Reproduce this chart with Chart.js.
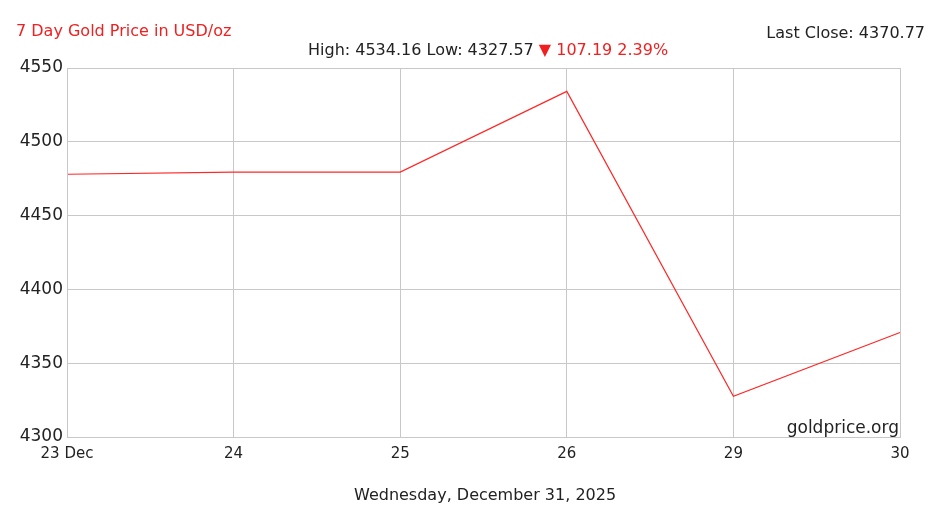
<!DOCTYPE html>
<html>
<head>
<meta charset="utf-8">
<script src="https://cdn.jsdelivr.net/npm/chart.js@4"></script>
<style>
body{margin:0;background:#fff;font-family:"DejaVu Sans",Verdana,sans-serif;}
#wrap{position:relative;width:939px;height:512px;}
.t{position:absolute;font-size:16px;color:#222;white-space:nowrap;}
</style>
</head>
<body>
<div id="wrap">
<canvas id="myChart" width="939" height="512"></canvas>
<div class="t" style="left:16px;top:21px;color:#f02020;">7 Day Gold Price in USD/oz</div>
<div class="t" style="right:14px;top:23px;">Last Close: 4370.77</div>
<div class="t" style="left:308px;top:40px;">High: 4534.16 Low: 4327.57 <span style="color:#f02020">&#9660; 107.19 2.39%</span></div>
<div class="t" style="right:40px;top:417px;font-size:17px;">goldprice.org</div>
<div class="t" style="left:354px;top:485px;">Wednesday, December 31, 2025</div>
</div>
<script>
const labels = ['23 Dec', '24', '25', '26', '29', '30'];
const prices = [4478, 4479.5, 4479.5, 4534.16, 4327.57, 4370.77];
const yTicks = [4300, 4350, 4400, 4450, 4500, 4550];

let myChart = new Chart(document.getElementById('myChart'), {
	type: 'line',
	data: {
		labels: labels,
		datasets: [{
			data: prices,
			borderColor: '#ff2828',
			borderWidth: 1.2,
			pointRadius: 0,
			tension: 0
		}]
	},
	options: {
		responsive: false,
		animation: false,
		layout: {padding: {top: 68, right: 39, left: 0, bottom: 0}},
		plugins: {legend: {display: false}, tooltip: {enabled: false}},
		scales: {
			x: {
				offset: false,
				grid: {color: '#c8c8c8', drawTicks: false},
				border: {color: '#c8c8c8'},
				ticks: {color: '#222', font: {family: 'DejaVu Sans', size: 15}, padding: 8, maxRotation: 0},
				afterFit: s => { s.height = 75; }
			},
			y: {
				min: 4300, max: 4550,
				afterBuildTicks: s => { s.ticks = yTicks.map(v => ({value: v})); },
				grid: {color: '#c8c8c8', drawTicks: false},
				border: {color: '#c8c8c8'},
				ticks: {color: '#222', font: {family: 'DejaVu Sans', size: 17}, padding: 4, callback: v => String(v)},
				afterFit: s => { s.width = 67; }
			}
		}
	},
	plugins: [{
		id: 'box',
		afterDraw(c) {
			const a = c.chartArea, g = c.ctx;
			g.save(); g.strokeStyle = '#c8c8c8'; g.lineWidth = 1;
			g.strokeRect(a.left + 0.5, a.top + 0.5, a.width, a.height);
			g.restore();
		}
	}]
});
</script>
</body>
</html>
